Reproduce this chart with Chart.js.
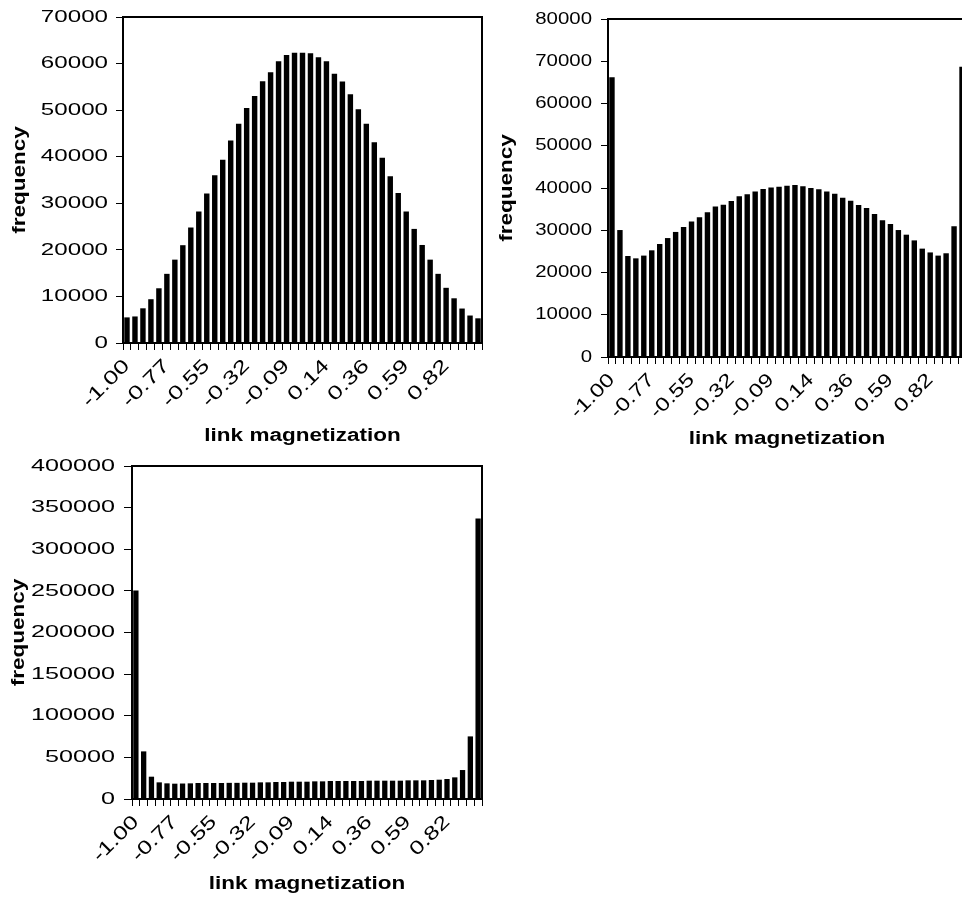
<!DOCTYPE html>
<html><head><meta charset="utf-8">
<script src="https://cdn.jsdelivr.net/npm/chart.js@4/dist/chart.umd.min.js"></script>
<style>
html,body{margin:0;padding:0;background:#fff;width:962px;height:901px;overflow:hidden;position:relative}
canvas{position:absolute}
</style></head><body>
<canvas id="c1" width="490" height="455" style="left:0;top:0"></canvas>
<canvas id="c2" width="490" height="460" style="left:490px;top:0"></canvas>
<canvas id="c3" width="490" height="446" style="left:0;top:455px"></canvas>
<script>
const categories = ["-1.00","-0.95","-0.91","-0.86","-0.82","-0.77","-0.73","-0.68","-0.64","-0.59",
  "-0.55","-0.50","-0.45","-0.41","-0.36","-0.32","-0.27","-0.23","-0.18","-0.14",
  "-0.09","-0.05","0.00","0.05","0.09","0.14","0.18","0.23","0.27","0.32",
  "0.36","0.41","0.45","0.50","0.55","0.59","0.64","0.68","0.73","0.77",
  "0.82","0.86","0.91","0.95","1.00"];
const labelEvery = 5;
const freqA = [5500,5700,7450,9400,11750,14850,17900,21000,24800,28250,
  32100,36000,39350,43500,47100,50450,53050,56200,58150,60500,
  61850,62350,62350,62200,61350,60500,57800,56150,53400,50200,
  47100,43100,39800,35800,32200,28250,24500,21050,17900,14850,
  11850,9600,7400,5900,5300];
const freqB = [66200,30050,23900,23350,24000,25250,26750,28150,29600,30750,
  32050,33050,34250,35600,36050,36900,38050,38500,39200,39750,
  40100,40300,40550,40700,40400,40000,39700,39200,38650,37700,
  37000,36000,35250,33850,32350,31500,30050,28950,27600,25650,
  24750,24000,24550,30950,68700];
const freqC = [250400,57200,26800,20000,18800,18400,18600,18800,19200,19200,
  19200,19200,19400,19400,19600,19600,20000,20000,20400,20400,
  20800,20800,20800,21200,21200,21600,21600,21600,21600,21600,
  22000,22000,22000,22000,22000,22400,22400,22400,22800,23200,
  24000,26000,34800,75200,336800];
const yTitle = "frequency";
const xTitle = "link magnetization";

// Reference glyphs are elongated along the reading direction: scale text horizontally in its own frame.
const _fill = CanvasRenderingContext2D.prototype.fillText;
const _measure = CanvasRenderingContext2D.prototype.measureText;
function textScale(ctx){
  const ts = ctx.__ts;
  if(!ts) return 1;
  if(/bold/.test(ctx.font)) return ts.bold;
  if(/19px/.test(ctx.font)) return ts.rot;
  return ts.normal;
}
CanvasRenderingContext2D.prototype.fillText = function(t,x,y,mw){
  const s = textScale(this);
  if(s===1) return _fill.call(this,t,x,y,mw);
  this.save(); this.translate(x,y); this.scale(s,1); _fill.call(this,t,0,0); this.restore();
};
CanvasRenderingContext2D.prototype.measureText = function(t){
  const m = _measure.call(this,t); const s = textScale(this);
  if(s===1) return m;
  return {width:m.width*s, actualBoundingBoxAscent:m.actualBoundingBoxAscent,
    actualBoundingBoxDescent:m.actualBoundingBoxDescent,
    actualBoundingBoxLeft:m.actualBoundingBoxLeft*s, actualBoundingBoxRight:m.actualBoundingBoxRight*s};
};

const FONT = "'Liberation Sans', Arial, Helvetica, sans-serif";
const boxPlugin = {id:'box', afterDatasetsDraw(chart){
  const {ctx, chartArea:a} = chart; ctx.save(); ctx.strokeStyle='#000'; ctx.lineWidth=2;
  ctx.strokeRect(a.left, a.top, a.right-a.left, a.bottom-a.top); ctx.restore(); }};

function makeChart(id, values, yMax, yStep, g){
  const canvas = document.getElementById(id);
  const ctx = canvas.getContext('2d');
  ctx.__ts = g.ts;
  return new Chart(ctx, {
    type:'bar',
    data:{labels:categories, datasets:[{data:values, backgroundColor:'#000', borderWidth:0,
      barPercentage:0.68, categoryPercentage:1}]},
    options:{
      responsive:false, animation:false, devicePixelRatio:1,
      layout:{padding:{top:g.padTop, right:g.padRight, left:0, bottom:0}},
      plugins:{legend:{display:false}, tooltip:{enabled:false}},
      scales:{
        x:{
          grid:{drawOnChartArea:false, drawTicks:true, tickLength:g.xTick, color:'#000', offset:true},
          border:{display:true, color:'#000', width:1},
          ticks:{autoSkip:false, minRotation:45, maxRotation:45, color:'#000', padding:g.xPad,
            labelOffset:g.xLabelOffset,
            font:{family:FONT, size:19}, callback:(v,i)=> i%labelEvery===0 ? categories[i] : ''},
          title:{display:true, text:xTitle, color:'#000', font:{family:FONT, size:18, weight:'bold'},
            padding:{top:0,bottom:g.xTitlePad}},
          afterFit:(s)=>{ s.height = g.xh; s.paddingLeft = 0; s.paddingRight = 0; }
        },
        y:{
          min:0, max:yMax,
          grid:{drawOnChartArea:false, drawTicks:true, tickLength:g.yTick, color:'#000'},
          border:{display:true, color:'#000', width:1},
          ticks:{stepSize:yStep, color:'#000', padding:g.yPad, font:{family:FONT, size:17},
            callback:(v)=> String(v)},
          title:{display:true, text:yTitle, color:'#000', font:{family:FONT, size:18, weight:'bold'},
            padding:{top:g.yTitlePad,bottom:0}},
          afterFit:(s)=>{ s.width = g.yw; s.paddingTop = 0; s.paddingBottom = 0; }
        }
      }
    },
    plugins:[boxPlugin]
  });
}

makeChart('c1', freqA, 70000, 10000, {yw:123, xh:112, padTop:17, padRight:8, xTitlePad:8, yTitlePad:9,
  xTick:7, yTick:7, xPad:5, yPad:8, xLabelOffset:0, ts:{normal:1.42, rot:1.35, bold:1.25}});
makeChart('c2', freqB, 80000, 10000, {yw:118, xh:103, padTop:19, padRight:14, xTitlePad:10, yTitlePad:6,
  xTick:7, yTick:7, xPad:5, yPad:9, xLabelOffset:0, ts:{normal:1.2, rot:1.25, bold:1.25}});
makeChart('c3', freqC, 400000, 50000, {yw:132, xh:102, padTop:11, padRight:8, xTitlePad:6, yTitlePad:8,
  xTick:7, yTick:8, xPad:5, yPad:9, xLabelOffset:0, ts:{normal:1.48, rot:1.3, bold:1.25}});
</script>
</body></html>
